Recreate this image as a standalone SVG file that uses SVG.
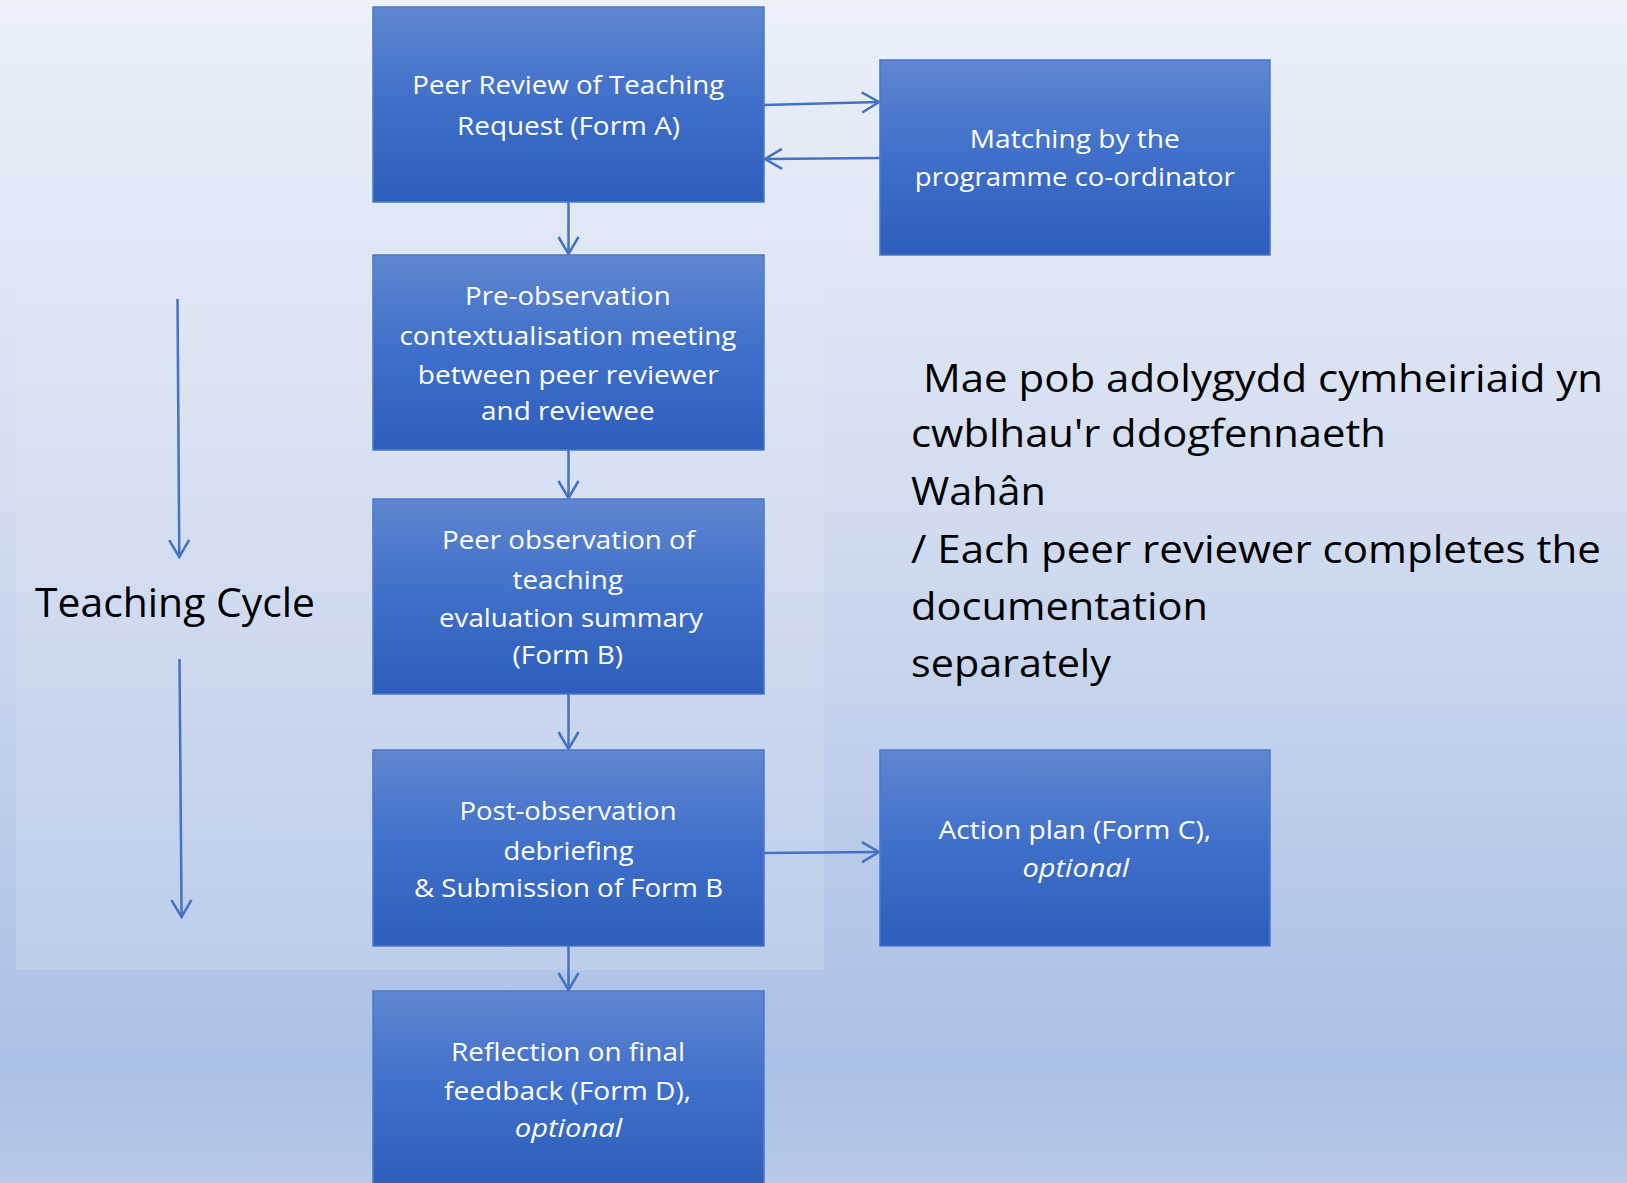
<svg xmlns="http://www.w3.org/2000/svg" width="1627" height="1183" viewBox="0 0 1627 1183">
  <defs>
    <linearGradient id="bg" x1="0" y1="0" x2="0" y2="1">
      <stop offset="0" stop-color="#ebf0f9"/>
      <stop offset="0.35" stop-color="#d8e1f2"/>
      <stop offset="0.9" stop-color="#abc0e6"/>
      <stop offset="1" stop-color="#b8c9e9"/>
    </linearGradient>
    <linearGradient id="bandFill" x1="0" y1="0" x2="0" y2="1">
      <stop offset="0" stop-color="#ffffff" stop-opacity="0"/>
      <stop offset="0.3" stop-color="#ffffff" stop-opacity="0.08"/>
      <stop offset="1" stop-color="#ffffff" stop-opacity="0.15"/>
    </linearGradient>
    <linearGradient id="boxFill" x1="0" y1="0" x2="0" y2="1">
      <stop offset="0" stop-color="#5f86d0"/>
      <stop offset="0.5" stop-color="#3f6fca"/>
      <stop offset="1" stop-color="#2d5ebb"/>
    </linearGradient>
    <marker id="arrow" markerUnits="userSpaceOnUse" viewBox="-22 -13 25 26" refX="0" refY="0" markerWidth="25" markerHeight="26" orient="auto">
      <path d="M-17,-10 L0,0 L-17,10" fill="none" stroke="#4472c4" stroke-width="2.5"/>
    </marker>
  </defs>
  <style>
    .box { fill: url(#boxFill); stroke: #4a78c8; stroke-width: 1.5; }
    .lbl { font-family: "Open Sans", "Liberation Sans", sans-serif; font-size: 26px; fill: #ffffff; text-anchor: middle; }
    .it { font-style: italic; }
    .note { font-family: "Open Sans", "Liberation Sans", sans-serif; font-size: 39px; fill: #000000; }
    .conn { fill: none; stroke: #4472c4; stroke-width: 2.5; marker-end: url(#arrow); }
  </style>

  <!-- page background -->
  <rect x="0" y="0" width="1627" height="1183" fill="url(#bg)"/>
  <!-- lighter band behind the teaching cycle, fading out towards the top -->
  <rect x="16" y="200" width="808" height="770" fill="url(#bandFill)"/>

  <g id="connectors">
    <path class="conn" d="M764,105 L879,102"/>
    <path class="conn" d="M880,158 L765,159"/>
    <path class="conn" d="M568.5,202 L568.5,254"/>
    <path class="conn" d="M568.5,450 L568.5,498"/>
    <path class="conn" d="M568.5,694 L568.5,749"/>
    <path class="conn" d="M764,853 L879,852"/>
    <path class="conn" d="M568.5,946 L568.5,990"/>
    <path class="conn" d="M177.5,299 L179.3,557"/>
    <path class="conn" d="M179.5,659 L181.6,917"/>
  </g>

  <g id="request">
    <rect class="box" x="373" y="7" width="391" height="195"/>
    <text class="lbl" x="568.3" y="94.3" textLength="312" lengthAdjust="spacingAndGlyphs">Peer Review of Teaching</text>
    <text class="lbl" x="568.5" y="134.5" textLength="223" lengthAdjust="spacingAndGlyphs">Request (Form A)</text>
  </g>

  <g id="matching">
    <rect class="box" x="880" y="60" width="390" height="195"/>
    <text class="lbl" x="1074.8" y="148.3" textLength="210" lengthAdjust="spacingAndGlyphs">Matching by the</text>
    <text class="lbl" x="1074.8" y="185.5" textLength="320" lengthAdjust="spacingAndGlyphs">programme co-ordinator</text>
  </g>

  <g id="pre-observation">
    <rect class="box" x="373" y="255" width="391" height="195"/>
    <text class="lbl" x="567.8" y="305" textLength="205.6" lengthAdjust="spacingAndGlyphs">Pre-observation</text>
    <text class="lbl" x="568" y="345.4" textLength="337" lengthAdjust="spacingAndGlyphs">contextualisation meeting</text>
    <text class="lbl" x="568.3" y="384" textLength="301" lengthAdjust="spacingAndGlyphs">between peer reviewer</text>
    <text class="lbl" x="567.8" y="420.4" textLength="173.5" lengthAdjust="spacingAndGlyphs">and reviewee</text>
  </g>

  <g id="observation">
    <rect class="box" x="373" y="499" width="391" height="195"/>
    <text class="lbl" x="568.5" y="549.3" textLength="253" lengthAdjust="spacingAndGlyphs">Peer observation of</text>
    <text class="lbl" x="567.8" y="589" textLength="110.4" lengthAdjust="spacingAndGlyphs">teaching</text>
    <text class="lbl" x="571" y="627" textLength="264" lengthAdjust="spacingAndGlyphs">evaluation summary</text>
    <text class="lbl" x="567.8" y="664" textLength="110.4" lengthAdjust="spacingAndGlyphs">(Form B)</text>
  </g>

  <g id="debriefing">
    <rect class="box" x="373" y="750" width="391" height="196"/>
    <text class="lbl" x="568" y="820.3" textLength="217" lengthAdjust="spacingAndGlyphs">Post-observation</text>
    <text class="lbl" x="568.5" y="860" textLength="130" lengthAdjust="spacingAndGlyphs">debriefing</text>
    <text class="lbl" x="568.5" y="897" textLength="309" lengthAdjust="spacingAndGlyphs">&amp; Submission of Form B</text>
  </g>

  <g id="action-plan">
    <rect class="box" x="880" y="750" width="390" height="196"/>
    <text class="lbl" x="1074.8" y="839" textLength="272.5" lengthAdjust="spacingAndGlyphs">Action plan (Form C),</text>
    <text class="lbl it" x="1075.8" y="876.7" textLength="106.5" lengthAdjust="spacingAndGlyphs">optional</text>
  </g>

  <g id="reflection">
    <rect class="box" x="373" y="991" width="391" height="196"/>
    <text class="lbl" x="568" y="1061" textLength="234" lengthAdjust="spacingAndGlyphs">Reflection on final</text>
    <text class="lbl" x="567.5" y="1100" textLength="247" lengthAdjust="spacingAndGlyphs">feedback (Form D),</text>
    <text class="lbl it" x="568.4" y="1136.7" textLength="107.3" lengthAdjust="spacingAndGlyphs">optional</text>
  </g>

  <g id="cycle-label">
    <text x="35" y="616.7" font-family="'Open Sans', 'Liberation Sans', sans-serif" font-size="41" fill="#000000" textLength="280" lengthAdjust="spacingAndGlyphs">Teaching Cycle</text>
  </g>

  <g id="note">
    <text class="note" x="923" y="392" textLength="680" lengthAdjust="spacingAndGlyphs">Mae pob adolygydd cymheiriaid yn</text>
    <text class="note" x="911" y="447" textLength="475" lengthAdjust="spacingAndGlyphs">cwblhau'r ddogfennaeth</text>
    <text class="note" x="911" y="505" textLength="135" lengthAdjust="spacingAndGlyphs">Wahân</text>
    <text class="note" x="911" y="563" textLength="690" lengthAdjust="spacingAndGlyphs">/ Each peer reviewer completes the</text>
    <text class="note" x="911" y="620" textLength="297" lengthAdjust="spacingAndGlyphs">documentation</text>
    <text class="note" x="911" y="677" textLength="200" lengthAdjust="spacingAndGlyphs">separately</text>
  </g>
</svg>
